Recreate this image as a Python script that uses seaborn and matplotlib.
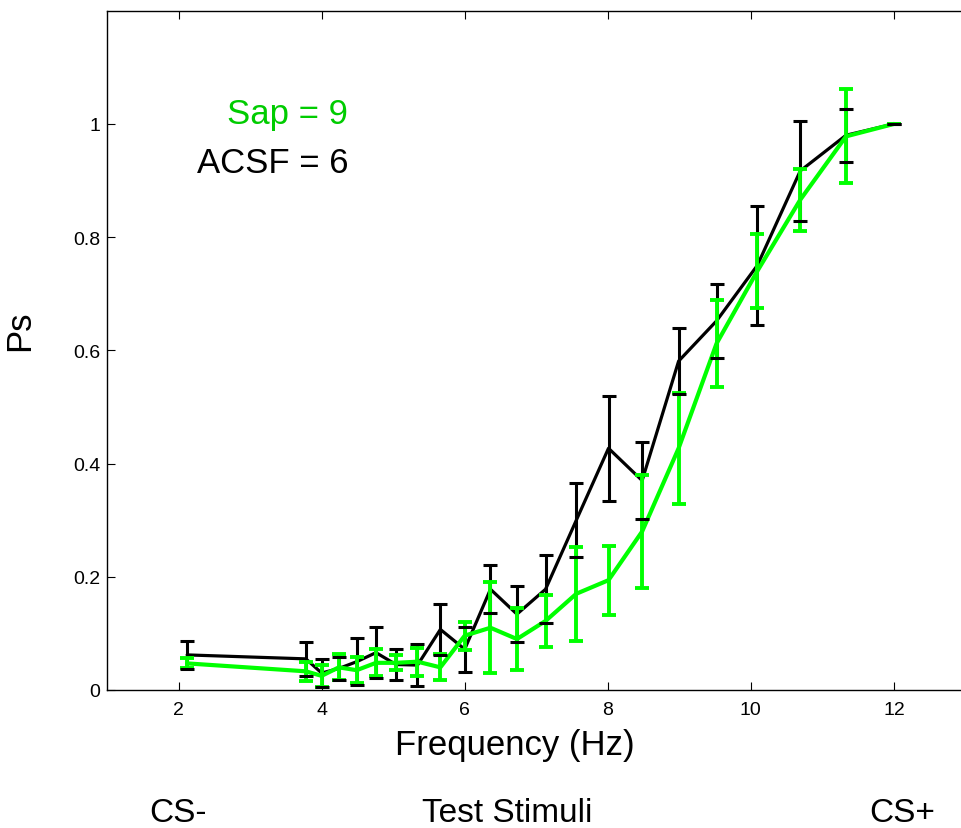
import matplotlib
matplotlib.use("Agg")
import matplotlib.pyplot as plt
import matplotlib.transforms as mtransforms
import numpy as np
import pandas as pd
import seaborn as sns

# ---- data ----
freq = [2.12, 3.78, 4.00, 4.24, 4.49, 4.76, 5.04, 5.34, 5.66, 6.00, 6.36,
        6.73, 7.13, 7.56, 8.01, 8.48, 8.99, 9.52, 10.09, 10.69, 11.33, 12.00]
acsf_mean = [0.062, 0.055, 0.030, 0.038, 0.050, 0.066, 0.045, 0.044, 0.107, 0.072, 0.178,
             0.134, 0.178, 0.300, 0.427, 0.370, 0.581, 0.652, 0.750, 0.917, 0.980, 1.000]
acsf_err = [0.025, 0.030, 0.024, 0.020, 0.042, 0.045, 0.027, 0.037, 0.045, 0.040, 0.042,
            0.050, 0.060, 0.065, 0.093, 0.068, 0.058, 0.065, 0.105, 0.089, 0.047, 0.0]
sap_mean = [0.047, 0.033, 0.025, 0.040, 0.035, 0.048, 0.048, 0.050, 0.040, 0.096, 0.110,
            0.090, 0.122, 0.170, 0.194, 0.280, 0.427, 0.612, 0.740, 0.866, 0.978, 1.000]
sap_err = [0.009, 0.017, 0.019, 0.023, 0.023, 0.024, 0.013, 0.025, 0.023, 0.025, 0.080,
           0.055, 0.046, 0.083, 0.061, 0.099, 0.098, 0.077, 0.065, 0.055, 0.083, 0.0]

xticks = [2, 4, 6, 8, 10, 12]
yticks = [0, 0.2, 0.4, 0.6, 0.8, 1.0]
yticklabels = ["0", "0.2", "0.4", "0.6", "0.8", "1"]
group_labels = ["CS-", "Test Stimuli", "CS+"]
group_pos = [1.99, 6.6, 12.12]
legend_texts = ["Sap = 9", "ACSF = 6"]

GREEN = "#00ff00"
GREEN_TXT = "#00cc00"

sns.set_style("white")
plt.rcParams["font.family"] = ["Liberation Sans", "DejaVu Sans"]
plt.rcParams["text.color"] = "black"
plt.rcParams["axes.labelcolor"] = "black"

df = pd.DataFrame({"freq": freq, "acsf": acsf_mean, "sap": sap_mean})

fig = plt.figure(figsize=(9.61, 8.29), dpi=100)
ax = fig.add_axes([107 / 961, 138 / 829, 858.5 / 961, 679.3 / 829])

# error bars
eb_a = ax.errorbar(freq, acsf_mean, yerr=acsf_err, fmt="none", ecolor="black",
                   elinewidth=2.2, capsize=5.2, capthick=2.2, zorder=2)
eb_s = ax.errorbar(freq, sap_mean, yerr=sap_err, fmt="none", ecolor=GREEN,
                   elinewidth=2.8, capsize=5.2, capthick=2.8, zorder=3)
for c in eb_a[1]:
    c.set_zorder(5)
for c in eb_s[1]:
    c.set_zorder(4.5)

sns.lineplot(data=df, x="freq", y="acsf", color="black", lw=2.3, ax=ax,
             estimator=None, zorder=2.5)
sns.lineplot(data=df, x="freq", y="sap", color=GREEN, lw=3.0, ax=ax,
             estimator=None, zorder=4)

ax.set_xlim(1, 13)
ax.set_ylim(0, 1.2)
ax.set_xticks(xticks)
ax.set_xticklabels([str(t) for t in xticks])
ax.set_yticks(yticks)
ax.set_yticklabels(yticklabels)
ax.tick_params(direction="in", length=6, width=0.8, labelsize=14, colors="black",
               top=True, right=False, bottom=True, left=True)
ax.tick_params(axis="x", pad=8)
ax.tick_params(axis="y", pad=5)
for s in ax.spines.values():
    s.set_color("black")
    s.set_linewidth(1.0)

ax.set_xlabel("Frequency (Hz)", fontsize=25)
ax.set_ylabel("Ps", fontsize=25)
ax.xaxis.set_label_coords(0.475, -0.056)
ax.yaxis.set_label_coords(-0.083, 0.53)

ax.text(4.37, 1.002, legend_texts[0], color=GREEN_TXT, fontsize=25,
        ha="right", va="baseline")
ax.text(4.37, 0.915, legend_texts[1], color="black", fontsize=25,
        ha="right", va="baseline")

trans = mtransforms.blended_transform_factory(ax.transData, fig.transFigure)
for lab, xp in zip(group_labels, group_pos):
    ax.text(xp, (829 - 822) / 829, lab, transform=trans, fontsize=24,
            ha="center", va="baseline", clip_on=False)

fig.savefig("out.png", dpi=100)
